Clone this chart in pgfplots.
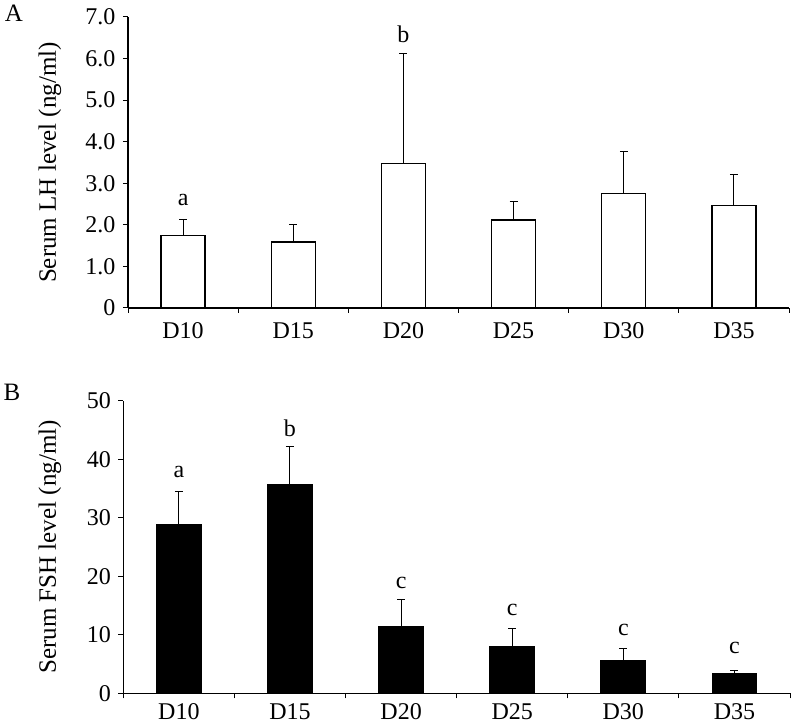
\documentclass[border=0pt]{standalone}
\usepackage{fontspec}
\setmainfont{Liberation Serif}
\usepackage{pgfplots}
\usepackage{pgfplotstable}
\pgfplotsset{compat=1.18}
\pgfplotstableread{
x y e
0 1.75 0.38
1 1.59 0.41
2 3.48 2.64
3 2.12 0.45
4 2.76 1.00
5 2.46 0.74
}\lhdata
\pgfplotstableread{
x y e
0 28.8 5.6
1 35.6 6.5
2 11.3 4.7
3 8.0 3.0
4 5.6 2.1
5 3.4 0.45
}\fshdata
\tikzset{lett/.style={font=\fontsize{24bp}{27bp}\selectfont}}
\pgfplotsset{
  common/.style={
    anchor=south west, scale only axis,
    axis lines*=left, axis line style={line width=1.2bp, black},
    xmin=-0.5, xmax=5.5, ymin=0,
    ybar, bar width=0.4,
    xtick={-0.5,0.5,...,5.5}, xticklabels={},
    extra x ticks={0,1,2,3,4,5},
    extra x tick labels={D10,D15,D20,D25,D30,D35},
    tick align=outside, major tick length=5bp,
    tick style={black, line width=1bp},
    tick label style={font=\fontsize{24bp}{27bp}\selectfont},
    label style={font=\fontsize{25bp}{28bp}\selectfont},
    x tick label style={yshift=-7bp},
    y tick label style={xshift=-4bp},
    clip=false,
  },
  errs/.style={error bars/.cd, y dir=plus, y explicit,
    error bar style={line width=1bp, black},
    error mark options={rotate=90, line width=1bp, mark size=4bp, black}},
}
\begin{document}
\begin{tikzpicture}
\useasboundingbox (0,0) rectangle (793bp,727bp);
\node[font=\fontsize{25bp}{28bp}\selectfont] at (14bp,714bp) {A};
\node[font=\fontsize{25bp}{28bp}\selectfont] at (12bp,335bp) {B};
\begin{axis}[common,
  extra x tick style={major tick length=0pt, xticklabel style={yshift=-4bp}},
  at={(128bp,419bp)}, width=661bp, height=291bp,
  ymax=7, ytick={0,1,2,3,4,5,6,7},
  yticklabels={0,1.0,2.0,3.0,4.0,5.0,6.0,7.0},
  ylabel={Serum LH level (ng/ml)},
  ylabel style={at={(axis description cs:-0.118,0.5)}, anchor=center},
]
\addplot[fill=white, draw=black, line width=1.4bp, errs] table[x=x, y=y, y error=e]{\lhdata};
\node[lett] at (axis cs:0,2.6) {a};
\node[lett] at (axis cs:2,6.59) {b};
\end{axis}
\begin{axis}[common,
  extra x tick style={major tick length=0pt},
  at={(123.3bp,33.7bp)}, width=666.7bp, height=292.6bp,
  ymax=50, ytick={0,10,20,30,40,50},
  yticklabels={0,10,20,30,40,50},
  ylabel={Serum FSH level (ng/ml)},
  ylabel style={at={(axis description cs:-0.11,0.5)}, anchor=center},
]
\addplot[fill=black, draw=black, line width=1.4bp, errs] table[x=x, y=y, y error=e]{\fshdata};
\node[lett] at (axis cs:0,37.9) {a};
\node[lett] at (axis cs:1,45.35) {b};
\node[lett] at (axis cs:2,18.85) {c};
\node[lett] at (axis cs:3,14.24) {c};
\node[lett] at (axis cs:4,10.8) {c};
\node[lett] at (axis cs:5,7.75) {c};
\end{axis}
\end{tikzpicture}
\end{document}
